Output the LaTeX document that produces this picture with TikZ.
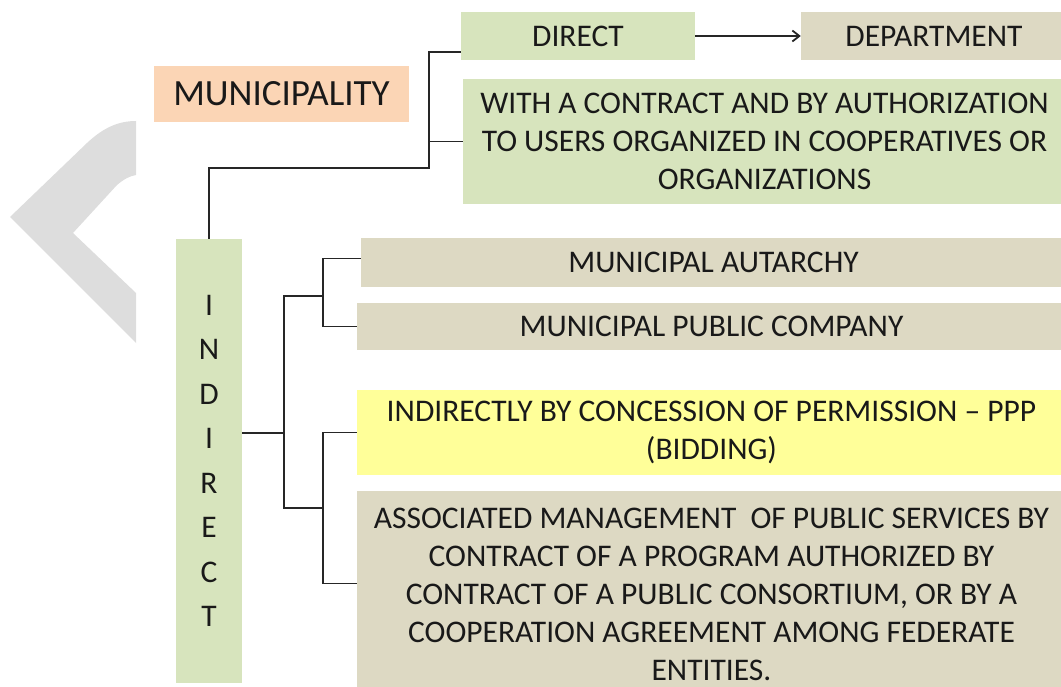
\documentclass[tikz,border=0pt]{standalone}
\usepackage{fontspec}
\setmainfont{Carlito}
\usetikzlibrary{calc,arrows.meta}
\definecolor{boxgreen}{HTML}{D7E4BD}
\definecolor{boxtan}{HTML}{DDD9C3}
\definecolor{boxpeach}{HTML}{FBD5B5}
\definecolor{boxyellow}{HTML}{FFFF99}
\definecolor{chevgrey}{HTML}{DDDDDD}
\begin{document}
\begin{tikzpicture}[x=1pt,y=-1pt,
  box/.style={rectangle, inner sep=0pt, align=center, font=\fontsize{31.5}{38}\selectfont, text=black!90},
  link/.style={line width=1.8pt, draw=black!85},
]
\useasboundingbox (0,0) rectangle (1061,687);
% grey chevron
\fill[chevgrey] (136,121) .. controls (118,121) and (103,128) .. (87,143) -- (10,217) -- (136,343) -- (136,293) -- (73,233) -- (117,185) .. controls (124,179) and (130,176) .. (136,175) -- cycle;
% boxes
\node[box, fill=boxgreen, minimum width=234, minimum height=48] (direct) at (578,36) {DIRECT};
\node[box, fill=boxtan, minimum width=266, minimum height=48] (dept) at (934,36) {DEPARTMENT};
\node[box, fill=boxpeach, minimum width=255, minimum height=56, font=\fontsize{37}{44}\selectfont] (muni) at (281.5,94) {MUNICIPALITY};
\node[box, fill=boxgreen, minimum width=603, minimum height=125] (with) at (764.5,141.5) {WITH A CONTRACT AND BY AUTHORIZATION\\TO USERS ORGANIZED IN COOPERATIVES OR\\ORGANIZATIONS};
\node[box, fill=boxgreen, minimum width=66, minimum height=444, font=\fontsize{31.5}{44.5}\selectfont] (ind) at (209,461) {I\\N\\D\\I\\R\\E\\C\\T};
\node[box, fill=boxtan, minimum width=705, minimum height=49] (aut) at (713.5,262.5) {MUNICIPAL AUTARCHY};
\node[box, fill=boxtan, minimum width=709, minimum height=47] (com) at (711.5,326.5) {MUNICIPAL PUBLIC COMPANY};
\node[box, fill=boxyellow, minimum width=709, minimum height=85] (ppp) at (711.5,432.5) {INDIRECTLY BY CONCESSION OF PERMISSION -- PPP\\(BIDDING)};
\node[box, fill=boxtan, minimum width=709, minimum height=207] (assoc) at (711.5,594.5) {ASSOCIATED MANAGEMENT\ \ OF PUBLIC SERVICES BY\\CONTRACT OF A PROGRAM AUTHORIZED BY\\CONTRACT OF A PUBLIC CONSORTIUM, OR BY A\\COOPERATION AGREEMENT AMONG FEDERATE\\ENTITIES.};
% connectors
\coordinate (j1) at (429,168);
\draw[link] (ind.north) |- (j1) |- ($(direct.south west)+(0,-8)$);
\draw[link] (j1 |- with.west) -- (with.west);
\draw[link, -{Straight Barb[length=7pt,width=11pt]}] (direct.east) -- (dept.west);
\coordinate (bu) at (284,296);
\coordinate (bl) at (284,508);
\coordinate (cu) at (323,296);
\coordinate (cl) at (323,508);
\draw[link] ($(ind.east)+(0,-28)$) -- ($(ind.east -| bu)+(0,-28)$);
\draw[link] (cu) -- (bu) -- (bl) -- (cl);
\draw[link] ($(aut.west)+(0,-4)$) -| (cu) |- (com.west);
\draw[link] (ppp.west) -| (cl) |- ($(assoc.west)+(0,-11)$);
\end{tikzpicture}
\end{document}
